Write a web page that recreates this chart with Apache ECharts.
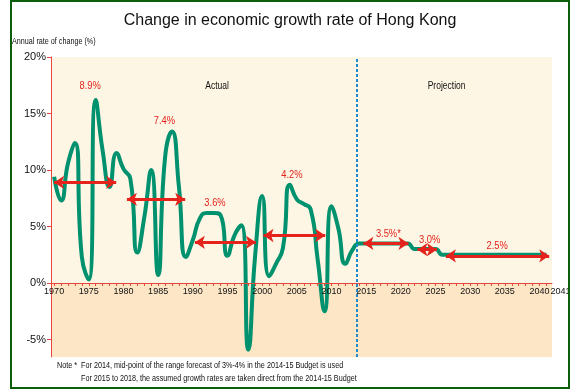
<!DOCTYPE html>
<html>
<head>
<meta charset="utf-8">
<script src="https://cdn.jsdelivr.net/npm/echarts@6/dist/echarts.min.js"></script>
<style>
html,body{margin:0;padding:0;background:#fff;}
#chart{width:580px;height:389px;}
</style>
</head>
<body>
<div id="chart"></div>
<script>
// ---- data ----
var years = [];
for (var yr = 1970; yr <= 2041; yr++) years.push(yr);
var growth = [
  9.4, 7.3, 10.6, 12.4, 2.3, 0.3, 16.2, 11.7, 8.5, 11.5,
  10.1, 9.2, 2.7, 5.8, 10.0, 0.7, 11.1, 13.4, 8.5, 2.3,
  3.8, 5.7, 6.2, 6.2, 6.0, 2.4, 4.2, 5.1, -5.9, 2.5,
  7.7, 0.6, 1.7, 3.1, 8.7, 7.4, 7.0, 6.5, 2.1, -2.5,
  6.8, 4.8, 1.7, 2.9, 3.5, 3.5, 3.5, 3.5, 3.5, 3.5,
  3.5, 3.5, 3.0, 3.0, 3.0, 3.0, 2.5, 2.5, 2.5, 2.5,
  2.5, 2.5, 2.5, 2.5, 2.5, 2.5, 2.5, 2.5, 2.5, 2.5,
  2.5, 2.5
];
var xTickLabels = ['1970','1975','1980','1985','1990','1995','2000','2005','2010','2015','2020','2025','2030','2035','2040','2041'];
var yTickValues = [-5, 0, 5, 10, 15, 20];

// average-growth arrows
var arrowStart = [1970, 1980.5, 1990.3, 2000.2, 2014.6, 2022.4, 2026.5];
var arrowEnd   = [1978.95, 1988.9, 1999.1, 2009.1, 2021.1, 2025.2, 2041.4];
var arrowValue = [8.9, 7.4, 3.6, 4.2, 3.5, 2.95, 2.4];
var avgLabels  = ['8.9%', '7.4%', '3.6%', '4.2%', '3.5%*', '3.0%', '2.5%'];
var avgLabelX  = [1975.2, 1985.9, 1993.2, 2004.3, 2018.2, 2024.15, 2033.9];
var avgLabelY  = [17.45, 14.3, 7.05, 9.55, 4.35, 3.85, 3.3];

var periodNames = ['Actual', 'Projection'];
var periodX = [1993.5, 2026.6];
var periodY = [17.4, 17.4];
var divideYear = 2013.65;

var noteLines = [
  'Note *  For 2014, mid-point of the range forecast of 3%-4% in the 2014-15 Budget is used',
  'For 2015 to 2018, the assumed growth rates are taken direct from the 2014-15 Budget'
];

// ---- chart ----
var sans = "'Liberation Sans', Arial, sans-serif";
var red = '#E3231C';
var axisRed = '#E8463E';
var yMin = -6.55, yMax = 20;

var chart = echarts.init(document.getElementById('chart'), null, {renderer: 'canvas'});

var arrowData = arrowStart.map(function (s, i) {
  return [{coord: [s, arrowValue[i]]}, {coord: [arrowEnd[i], arrowValue[i]]}];
});

var gridTop = 57, gridBottom = 32, chartH = 389;
var plotH = chartH - gridTop - gridBottom;
// distance from the bottom edge of the plot up to the zero line
var zeroOffset = plotH * (0 - yMin) / (yMax - yMin);

var option = {
  animation: false,
  backgroundColor: '#fff',
  title: {
    text: 'Change in economic growth rate of Hong Kong',
    left: 'center',
    top: 8,
    textStyle: {fontFamily: sans, fontSize: 16, fontWeight: 'normal', color: '#111'}
  },
  grid: {left: 51, right: 28, top: gridTop, bottom: gridBottom},
  xAxis: {
    type: 'value',
    min: 1969.55,
    max: 2041.8,
    z: 10,
    position: 'bottom',
    offset: -zeroOffset,
    splitLine: {show: false},
    axisLine: {show: true, onZero: false, lineStyle: {color: axisRed, width: 1}},
    axisTick: {show: true, customValues: years, length: 3, lineStyle: {color: axisRed}},
    axisLabel: {
      customValues: xTickLabels.map(Number),
      hideOverlap: false,
      margin: 4,
      fontFamily: sans,
      fontSize: 9,
      color: '#111',
      formatter: function (v) {
        return v === 2041 ? '{r|2041}' : String(v);
      },
      rich: {r: {padding: [0, 0, 0, 28], fontFamily: sans, fontSize: 9, color: '#111'}}
    }
  },
  yAxis: {
    type: 'value',
    min: yMin,
    max: yMax,
    z: 10,
    splitLine: {show: false},
    axisLine: {show: true, onZero: false, lineStyle: {color: axisRed, width: 1}},
    axisTick: {show: true, customValues: yTickValues, length: 4, lineStyle: {color: axisRed}},
    axisLabel: {
      customValues: yTickValues,
      formatter: '{value}%',
      margin: 5,
      fontFamily: sans,
      fontSize: 11,
      color: '#111'
    }
  },
  series: [
    {
      type: 'line',
      data: [],
      z: 1,
      silent: true,
      markArea: {
        silent: true,
        data: [
          [{yAxis: 0, itemStyle: {color: '#FEF6E4'}}, {yAxis: yMax}],
          [{yAxis: yMin, itemStyle: {color: '#FCE6C6'}}, {yAxis: 0}]
        ]
      }
    },
    {
      type: 'line',
      z: 3,
      smooth: 0.55,
      symbol: 'none',
      lineStyle: {color: '#00916F', width: 4},
      data: years.map(function (y, i) { return [y, growth[i]]; }),
      markLine: {
        silent: true,
        symbol: 'none',
        label: {show: false},
        lineStyle: {color: '#1E8BCF', type: [3, 2], width: 2},
        data: [{xAxis: divideYear}]
      }
    },
    {
      type: 'line',
      z: 5,
      data: [],
      markLine: {
        silent: true,
        symbol: ['arrow', 'arrow'],
        symbolSize: [10, 10],
        label: {show: false},
        lineStyle: {color: red, type: 'solid', width: 3, opacity: 1},
        data: arrowData
      }
    }
  ],
  graphic: [
    {
      type: 'rect',
      shape: {x: 11, y: 1, width: 558, height: 387},
      style: {fill: null, stroke: '#0B5E0B', lineWidth: 2},
      z: 100
    },
    {
      type: 'text',
      x: 12, y: 37, scaleX: 0.8,
      style: {text: 'Annual rate of change (%)', font: '9px ' + sans, fill: '#111'}
    },
    {
      type: 'text',
      x: 57, y: 360, scaleX: 0.76,
      style: {text: noteLines[0], font: '9.5px ' + sans, fill: '#111'}
    },
    {
      type: 'text',
      x: 81, y: 373, scaleX: 0.76,
      style: {text: noteLines[1], font: '9.5px ' + sans, fill: '#111'}
    }
  ]
};
chart.setOption(option);

// annotation texts positioned through the chart's own scales
var extra = [];
avgLabels.forEach(function (t, i) {
  var p = chart.convertToPixel({gridIndex: 0}, [avgLabelX[i], avgLabelY[i]]);
  extra.push({
    type: 'text', x: p[0], y: p[1], scaleX: 0.85, z: 50,
    style: {text: t, font: '11px ' + sans, fill: red, align: 'center', verticalAlign: 'middle'}
  });
});
periodNames.forEach(function (t, i) {
  var p = chart.convertToPixel({gridIndex: 0}, [periodX[i], periodY[i]]);
  extra.push({
    type: 'text', x: p[0], y: p[1], scaleX: 0.85, z: 50,
    style: {text: t, font: '10px ' + sans, fill: '#111', align: 'center', verticalAlign: 'middle'}
  });
});
chart.setOption({graphic: option.graphic.concat(extra)});
</script>
</body>
</html>
